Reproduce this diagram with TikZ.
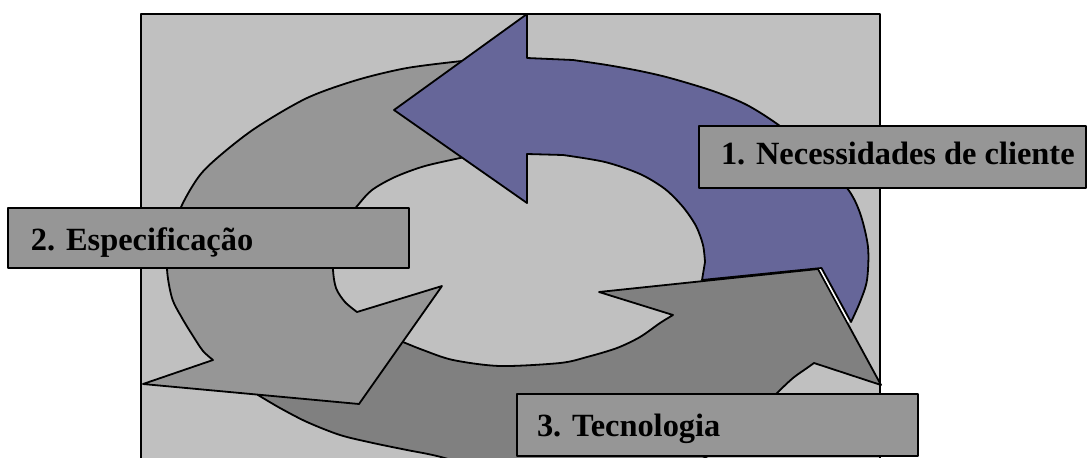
\documentclass[tikz,border=0pt]{standalone}
\usepackage{fontspec}
\setmainfont{Liberation Serif}
\definecolor{framegray}{HTML}{C0C0C0}
\definecolor{boxgray}{HTML}{969696}
\definecolor{arrowdark}{HTML}{808080}
\definecolor{arrowblue}{HTML}{666699}
\newcommand*{\px}{0.75pt}
\newcommand*{\xMax}{1087}
\newcommand*{\yMax}{457}

\begin{document}
\begin{tikzpicture}[x=\px, y=-\px, line join=round,
	every node/.style={outer sep=0pt},
	arrowpart/.style={draw=black, line width=1.35pt},
	labelbox/.style={draw=black, fill=boxgray, line width=1.35pt, anchor=north west, inner sep=0pt},
	labeltext/.style={anchor=base west, inner sep=0pt, font=\bfseries\fontsize{24.3}{29}\selectfont}]
	\useasboundingbox (0,0) rectangle (\xMax,\yMax);
	\clip (0,0) rectangle (\xMax,\yMax);
	% frame
	\draw[fill=framegray, line width=1.35pt] (141,14) rectangle (880,470);
	% arrow 3
	\filldraw[arrowpart, fill=arrowdark] (380,335) -- plot[smooth] coordinates {(403,342) (423,350) (453,360) (500,366) (560,363) (587,357) (617,348) (640,337) (660,323) (673,315)}
		-- (599,292) -- (818,269) -- (881,385)
		-- plot[smooth] coordinates {(814,363) (807,368) (793,378) (777,393) (750,420) (700,460) (600,482) (500,472) (437,456) (407,450) (373,443) (340,435) (307,422) (280,408) (258,395)}
		-- (250,385) -- cycle;
	% arrow 2
	\filldraw[arrowpart, fill=boxgray] (495,58) -- plot[smooth] coordinates {(462,61) (407,68) (357,80) (307,98) (257,127) (223,153) (200,175) (182,205) (171,237) (167,268) (172,298) (182,318) (193,336) (203,351) (213,360)}
		-- (143,384) -- (359,404) -- (442,286)
		-- plot[smooth] coordinates {(357,312) (345,302) (336,288) (333,268) (336,245) (345,222) (358,205) (372,190) (395,177) (425,166) (465,157)}
		-- (495,156) -- cycle;
	\draw[white, line width=1.1pt] (819.8,268.5) -- (848.8,322);
	% arrow 1
	\filldraw[arrowpart, fill=arrowblue] (394,110) -- (527,14) -- (527,58)
		-- plot[smooth] coordinates {(573,60) (607,65) (640,71) (670,78) (713,91) (747,105) (780,126) (815,155) (847,188) (860,213) (868,247) (867,280) (860,302) (851,322)}
		-- (821.5,268) -- (702,280)
		-- plot[smooth] coordinates {(705,262) (703,245) (696,226) (683,207) (665,189) (640,174) (605,162) (563,155)}
		-- (527,154) -- (527,203) -- cycle;
	% labels
	\node[labelbox, minimum width=387*\px, minimum height=62*\px] (needsbox) at (699,126) {};
	\node[labeltext] (needstext) at (721,164) {1. Necessidades de cliente};
	\node[labelbox, minimum width=401*\px, minimum height=60*\px] (specbox) at (8,208) {};
	\node[labeltext] (spectext) at (31,250) {2. Especificação};
	\node[labelbox, minimum width=401*\px, minimum height=62*\px] (techbox) at (517,394) {};
	\node[labeltext] (techtext) at (537,436) {3. Tecnologia};
\end{tikzpicture}
\end{document}
